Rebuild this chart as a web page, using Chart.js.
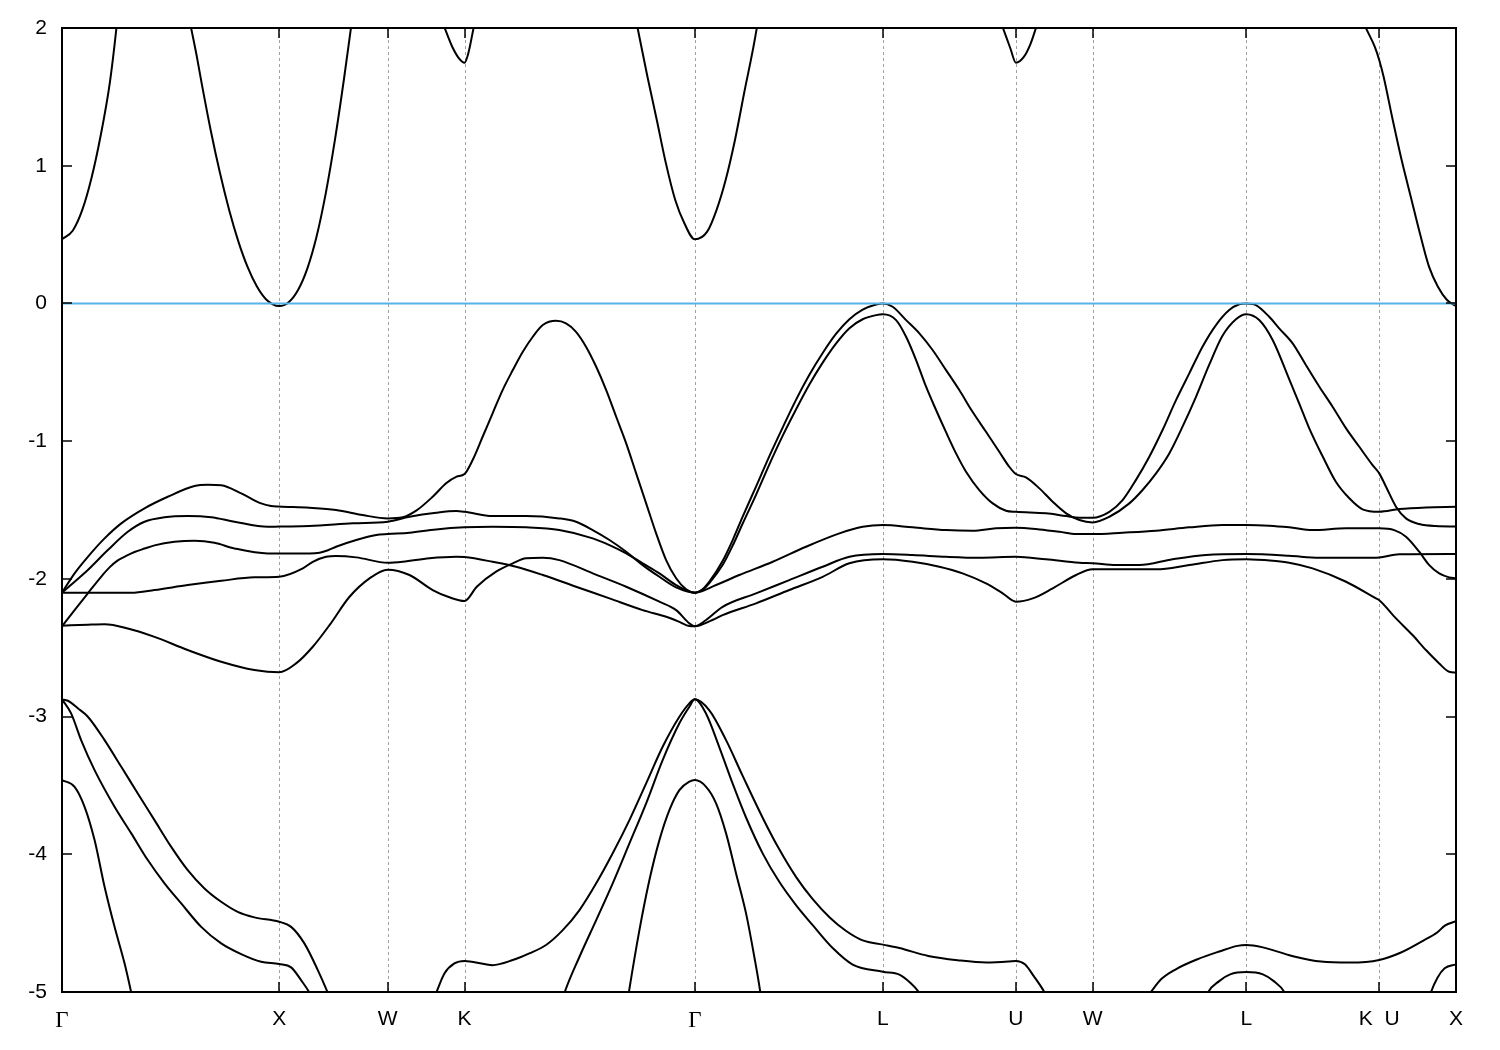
<!DOCTYPE html>
<html><head><meta charset="utf-8">
<script src="https://cdn.jsdelivr.net/npm/chart.js@4/dist/chart.umd.min.js"></script>
<style>html,body{margin:0;padding:0;background:#fff;}</style>
</head><body>
<canvas id="c" width="1500" height="1050"></canvas>
<script>
// High-symmetry points (path coordinate) and their labels
const kTicks = [0, 1.0, 1.5, 1.8536, 2.9142, 3.7802, 4.3926, 4.7462, 5.4533, 6.0657, 6.4193];
const kLabels = ['Γ', 'X', 'W', 'K', 'Γ', 'L', 'U', 'W', 'L', 'K  U', 'X'];
const yTicks = [-5, -4, -3, -2, -1, 0, 1, 2];
const fermiLevel = [[0, 0], [6.4193, 0]];

// Bands: [k, energy]; null energy = band leaves the plotted window
const conduction = [[0,0.4655],[0.050,0.53],[0.093,0.677],[0.135,0.905],[0.177,1.21],[0.220,1.60],[0.251,2.005],[0.262,2.18],
[0.42,null],
[0.575,2.16],[0.594,2.005],[0.62,1.80],[0.643,1.60],[0.685,1.256],[0.727,0.950],[0.770,0.677],[0.812,0.451],[0.855,0.263],[0.897,0.124],[0.939,0.031],[1.0,-0.019],[1.045,0.011],[1.087,0.098],[1.130,0.255],[1.172,0.484],[1.215,0.803],[1.257,1.189],[1.299,1.635],[1.331,2.005],[1.345,2.17],
[1.5,null],
[1.752,2.04],[1.761,2.005],[1.797,1.864],[1.828,1.780],[1.8536,1.748],[1.871,1.816],[1.896,2.005],[1.905,2.07],
[2.3,null],
[2.630,2.16],[2.650,2.005],[2.696,1.646],[2.739,1.332],[2.781,1.017],[2.824,0.751],[2.866,0.582],[2.9142,0.4655],[2.971,0.521],[3.014,0.678],[3.056,0.896],[3.099,1.187],[3.141,1.526],[3.200,2.005],[3.211,2.13],
[3.8,null],
[4.321,2.052],[4.332,2.005],[4.367,1.853],[4.3926,1.748],[4.430,1.792],[4.461,1.889],[4.486,2.005],[4.494,2.045],
[5.2,null],
[5.985,2.07],[6.003,2.005],[6.045,1.864],[6.0657,1.768],[6.086,1.646],[6.128,1.332],[6.169,1.041],[6.211,0.775],[6.253,0.509],[6.295,0.267],[6.336,0.121],[6.378,0.025],[6.4193,-0.019]];

const band1 = [[0,-2.10],[0.058,-1.96],[0.119,-1.84],[0.196,-1.706],[0.273,-1.597],[0.380,-1.488],[0.487,-1.404],[0.610,-1.326],[0.671,-1.317],[0.733,-1.321],[0.825,-1.379],[0.917,-1.452],[0.963,-1.471],[1.0,-1.475],
[1.139,-1.484],[1.262,-1.500],[1.385,-1.537],[1.5,-1.561],[1.569,-1.553],[1.631,-1.505],[1.707,-1.404],[1.769,-1.306],[1.815,-1.259],[1.8536,-1.239],
[1.891,-1.137],[1.937,-0.968],[1.983,-0.798],[2.029,-0.629],[2.076,-0.484],[2.122,-0.351],[2.168,-0.242],[2.214,-0.157],[2.275,-0.126],[2.321,-0.145],[2.367,-0.206],[2.413,-0.314],[2.460,-0.460],[2.506,-0.629],[2.552,-0.823],[2.598,-1.016],[2.644,-1.234],[2.690,-1.452],[2.736,-1.670],[2.782,-1.864],[2.828,-1.996],[2.874,-2.076],[2.9142,-2.10],
[2.95,-2.075],[2.981,-2.02],[3.042,-1.87],[3.088,-1.72],[3.134,-1.55],[3.196,-1.33],[3.257,-1.11],[3.319,-0.90],[3.380,-0.70],[3.441,-0.52],[3.503,-0.36],[3.565,-0.22],[3.626,-0.115],[3.687,-0.045],[3.749,-0.008],[3.7802,0.0],
[3.825,-0.024],[3.887,-0.121],[3.948,-0.217],[4.009,-0.338],[4.071,-0.484],[4.132,-0.629],[4.193,-0.787],[4.255,-0.932],[4.316,-1.077],[4.362,-1.186],[4.3926,-1.239],[4.439,-1.263],[4.501,-1.343],[4.562,-1.440],[4.624,-1.524],[4.685,-1.573],[4.7462,-1.590],
[4.823,-1.549],[4.915,-1.452],[4.976,-1.355],[5.038,-1.234],[5.099,-1.089],[5.160,-0.895],[5.222,-0.678],[5.283,-0.445],[5.344,-0.235],[5.406,-0.115],[5.4533,-0.079],
[5.513,-0.121],[5.575,-0.266],[5.651,-0.55],[5.697,-0.725],[5.743,-0.905],[5.805,-1.11],[5.866,-1.295],[5.928,-1.415],[5.989,-1.495],[6.0657,-1.513],[6.158,-1.493],[6.281,-1.481],[6.4193,-1.476]];

const band2 = [[0,-2.10],[0.058,-2.021],[0.119,-1.936],[0.211,-1.791],[0.303,-1.658],[0.380,-1.585],[0.472,-1.553],[0.579,-1.544],[0.687,-1.553],[0.794,-1.585],[0.948,-1.622],[1.0,-1.620],
[1.139,-1.617],[1.339,-1.597],[1.5,-1.585],[1.600,-1.549],[1.723,-1.520],[1.815,-1.508],[1.8536,-1.513],
[1.983,-1.544],[2.137,-1.544],[2.290,-1.561],[2.367,-1.585],[2.444,-1.646],[2.521,-1.718],[2.598,-1.803],[2.674,-1.900],[2.751,-1.985],[2.828,-2.062],[2.9142,-2.10],
[2.95,-2.078],[2.981,-2.03],[3.042,-1.90],[3.088,-1.76],[3.134,-1.60],[3.196,-1.39],[3.257,-1.17],[3.319,-0.96],[3.380,-0.77],[3.441,-0.59],[3.503,-0.43],[3.565,-0.29],[3.626,-0.18],[3.687,-0.115],[3.749,-0.085],[3.7802,-0.079],
[3.841,-0.121],[3.887,-0.242],[3.933,-0.411],[3.979,-0.605],[4.025,-0.774],[4.071,-0.935],[4.117,-1.089],[4.163,-1.222],[4.224,-1.355],[4.286,-1.452],[4.347,-1.505],[4.3926,-1.513],[4.531,-1.524],[4.624,-1.544],[4.685,-1.556],[4.7462,-1.556],
[4.823,-1.513],[4.884,-1.428],[4.945,-1.283],[5.007,-1.113],[5.068,-0.919],[5.130,-0.702],[5.191,-0.508],[5.252,-0.314],[5.314,-0.157],[5.375,-0.048],[5.421,-0.006],[5.4533,0.0],
[5.498,-0.012],[5.559,-0.097],[5.605,-0.181],[5.667,-0.290],[5.728,-0.447],[5.790,-0.605],[5.851,-0.750],[5.913,-0.907],[5.974,-1.041],[6.035,-1.174],[6.0657,-1.234],[6.097,-1.331],[6.143,-1.476],[6.189,-1.561],[6.250,-1.602],[6.327,-1.617],[6.4193,-1.62]];

const band3 = [[0,-2.10],[0.119,-2.101],[0.319,-2.101],[0.426,-2.081],[0.579,-2.045],[0.733,-2.014],[0.886,-1.989],[1.0,-1.985],
[1.109,-1.924],[1.155,-1.876],[1.216,-1.840],[1.262,-1.834],[1.355,-1.844],[1.5,-1.883],[1.569,-1.876],[1.692,-1.851],[1.815,-1.840],[1.8536,-1.842],
[1.983,-1.876],[2.091,-1.912],[2.214,-1.972],[2.367,-2.057],[2.521,-2.142],[2.674,-2.227],[2.782,-2.275],[2.843,-2.312],[2.889,-2.343],[2.9142,-2.345],
[2.966,-2.299],[3.042,-2.203],[3.196,-2.105],[3.349,-2.009],[3.503,-1.912],[3.626,-1.840],[3.7802,-1.820],
[3.917,-1.827],[4.071,-1.840],[4.224,-1.847],[4.3926,-1.840],[4.531,-1.858],[4.685,-1.883],[4.7462,-1.887],
[4.854,-1.900],[4.961,-1.900],[5.114,-1.858],[5.268,-1.827],[5.4533,-1.820],
[5.651,-1.832],[5.790,-1.847],[6.035,-1.847],[6.0657,-1.845],[6.158,-1.822],[6.4193,-1.82]];

const band4 = [[0,-2.345],[0.058,-2.227],[0.119,-2.105],[0.180,-1.985],[0.22,-1.915],[0.257,-1.866],[0.30,-1.83],[0.334,-1.805],[0.38,-1.78],[0.426,-1.757],[0.518,-1.731],[0.610,-1.723],[0.702,-1.738],[0.794,-1.779],[0.948,-1.815],[1.0,-1.815],
[1.139,-1.815],[1.186,-1.81],[1.225,-1.792],[1.262,-1.767],[1.355,-1.718],[1.447,-1.682],[1.5,-1.675],[1.600,-1.665],[1.723,-1.641],[1.8536,-1.626],
[1.983,-1.622],[2.137,-1.626],[2.290,-1.646],[2.444,-1.706],[2.521,-1.755],[2.598,-1.815],[2.674,-1.887],[2.751,-1.960],[2.828,-2.045],[2.9142,-2.10],
[3.012,-2.045],[3.119,-1.972],[3.273,-1.876],[3.426,-1.767],[3.580,-1.670],[3.687,-1.622],[3.7802,-1.609],
[3.917,-1.626],[4.071,-1.646],[4.193,-1.651],[4.301,-1.633],[4.3926,-1.629],[4.501,-1.641],[4.593,-1.658],[4.670,-1.675],[4.7462,-1.675],
[4.884,-1.665],[5.038,-1.651],[5.191,-1.626],[5.344,-1.609],[5.4533,-1.609],
[5.559,-1.614],[5.651,-1.626],[5.759,-1.646],[5.913,-1.633],[6.0657,-1.633],[6.135,-1.646],[6.189,-1.694],[6.250,-1.803],[6.296,-1.900],[6.342,-1.960],[6.388,-1.989],[6.4193,-1.996]];

const band5 = [[0,-2.34],[0.119,-2.333],[0.196,-2.330],[0.303,-2.360],[0.426,-2.421],[0.579,-2.517],[0.733,-2.602],[0.886,-2.662],[1.0,-2.679],
[1.078,-2.614],[1.155,-2.493],[1.232,-2.336],[1.324,-2.130],[1.416,-1.996],[1.5,-1.933],[1.600,-1.972],[1.707,-2.081],[1.784,-2.134],[1.8536,-2.161],
[1.910,-2.057],[1.999,-1.948],[2.076,-1.887],[2.137,-1.851],[2.214,-1.847],[2.290,-1.864],[2.444,-1.960],[2.598,-2.057],[2.751,-2.166],[2.828,-2.227],[2.889,-2.323],[2.9142,-2.345],
[2.995,-2.299],[3.042,-2.263],[3.196,-2.178],[3.349,-2.081],[3.503,-1.985],[3.626,-1.887],[3.7802,-1.858],
[3.917,-1.876],[4.040,-1.912],[4.147,-1.960],[4.255,-2.033],[4.332,-2.105],[4.3926,-2.166],[4.470,-2.142],[4.562,-2.069],[4.670,-1.972],[4.7462,-1.931],
[4.823,-1.931],[5.038,-1.931],[5.191,-1.900],[5.344,-1.864],[5.4533,-1.858],
[5.575,-1.869],[5.651,-1.883],[5.759,-1.924],[5.913,-2.021],[6.051,-2.142],[6.0657,-2.155],[6.143,-2.287],[6.219,-2.408],[6.281,-2.517],[6.342,-2.614],[6.388,-2.675],[6.4193,-2.68]];

const band6 = [[0,-2.875],[0.027,-2.885],[0.073,-2.940],[0.119,-3.001],[0.196,-3.171],[0.273,-3.365],[0.349,-3.558],[0.426,-3.752],[0.503,-3.946],[0.579,-4.115],[0.656,-4.248],[0.733,-4.345],[0.809,-4.418],[0.886,-4.458],[1.0,-4.490],[1.055,-4.527],[1.116,-4.647],[1.178,-4.841],[1.224,-5.006],[1.255,-5.13],
[1.5,null],
[1.692,-5.12],[1.723,-5.006],[1.761,-4.865],[1.807,-4.792],[1.8536,-4.774],[1.945,-4.797],[1.983,-4.805],[2.076,-4.768],[2.152,-4.720],[2.229,-4.659],[2.306,-4.551],[2.383,-4.405],[2.460,-4.211],[2.536,-3.993],[2.613,-3.752],[2.690,-3.485],[2.766,-3.219],[2.843,-3.001],[2.889,-2.904],[2.9142,-2.875],
[2.981,-2.955],[3.058,-3.171],[3.134,-3.429],[3.227,-3.736],[3.303,-3.964],[3.380,-4.164],[3.457,-4.326],[3.534,-4.457],[3.611,-4.557],[3.687,-4.625],[3.7802,-4.656],
[3.856,-4.681],[3.989,-4.738],[4.124,-4.769],[4.258,-4.786],[4.358,-4.779],[4.3926,-4.774],[4.434,-4.799],[4.475,-4.885],[4.526,-5.007],[4.551,-5.09],
[4.75,null],
[4.979,-5.07],[5.011,-5.007],[5.061,-4.908],[5.129,-4.835],[5.229,-4.762],[5.329,-4.706],[5.413,-4.665],[5.4533,-4.659],[5.530,-4.676],[5.664,-4.738],[5.798,-4.779],[5.932,-4.786],[6.0657,-4.767],[6.166,-4.713],[6.267,-4.628],[6.334,-4.566],[6.368,-4.518],[6.4193,-4.486]];

const band7 = [[0,-2.875],[0.042,-2.977],[0.088,-3.171],[0.150,-3.389],[0.242,-3.655],[0.319,-3.848],[0.395,-4.042],[0.472,-4.211],[0.549,-4.357],[0.641,-4.527],[0.733,-4.647],[0.825,-4.725],[0.917,-4.781],[1.0,-4.797],[1.055,-4.821],[1.101,-4.914],[1.140,-5.006],[1.178,-5.13],
[1.7,null],
[2.291,-5.13],[2.314,-5.006],[2.383,-4.744],[2.460,-4.478],[2.536,-4.211],[2.613,-3.921],[2.690,-3.630],[2.766,-3.316],[2.843,-3.049],[2.889,-2.929],[2.9142,-2.875],
[2.966,-2.979],[3.027,-3.223],[3.088,-3.485],[3.150,-3.733],[3.227,-3.995],[3.303,-4.200],[3.380,-4.369],[3.457,-4.515],[3.549,-4.681],[3.641,-4.801],[3.7802,-4.853],[3.856,-4.874],[3.906,-4.933],[3.948,-5.006],[3.979,-5.095],
[4.6,null],
[5.256,-5.095],[5.276,-5.006],[5.329,-4.921],[5.379,-4.872],[5.4533,-4.855],[5.530,-4.872],[5.580,-4.921],[5.631,-5.006],[5.652,-5.095],
[6.0,null],
[6.287,-5.095],[6.303,-5.006],[6.334,-4.896],[6.367,-4.828],[6.4193,-4.799]];

const band8 = [[0,-3.461],[0.058,-3.510],[0.104,-3.655],[0.150,-3.897],[0.196,-4.236],[0.242,-4.527],[0.288,-4.792],[0.319,-5.006],[0.334,-5.12],
[1.5,null],
[2.599,-5.12],[2.610,-5.006],[2.659,-4.551],[2.705,-4.187],[2.751,-3.897],[2.797,-3.679],[2.843,-3.534],[2.889,-3.473],[2.9142,-3.461],[2.966,-3.510],[3.012,-3.630],[3.058,-3.848],[3.104,-4.139],[3.150,-4.429],[3.188,-4.744],[3.216,-5.006],[3.225,-5.12]];

const bands = [conduction, band1, band2, band3, band4, band5, band6, band7, band8];

const toXY = arr => arr.map(p => ({x: p[0], y: p[1]}));

const framePlugin = {
  id: 'frame',
  beforeDatasetsDraw(chart) {
    const {ctx, chartArea: a, scales: {x}} = chart;
    ctx.save();
    ctx.strokeStyle = '#a0a0a0';
    ctx.lineWidth = 1;
    ctx.setLineDash([3, 3]);
    kTicks.forEach(v => {
      if (v > x.min + 1e-6 && v < x.max - 1e-6) {
        const px = Math.round(x.getPixelForValue(v)) + 0.5;
        ctx.beginPath(); ctx.moveTo(px, a.top); ctx.lineTo(px, a.bottom); ctx.stroke();
      }
    });
    ctx.restore();
  },
  afterDatasetsDraw(chart) {
    const {ctx, chartArea: a, scales: {x, y}} = chart;
    const tl = 10;
    ctx.save();
    ctx.strokeStyle = '#000';
    ctx.lineWidth = 1.5;
    ctx.beginPath();
    kTicks.forEach(v => {
      const px = Math.round(x.getPixelForValue(v));
      ctx.moveTo(px, a.bottom); ctx.lineTo(px, a.bottom - tl);
      ctx.moveTo(px, a.top); ctx.lineTo(px, a.top + tl);
    });
    yTicks.forEach(v => {
      const py = Math.round(y.getPixelForValue(v));
      ctx.moveTo(a.left, py); ctx.lineTo(a.left + tl, py);
      ctx.moveTo(a.right, py); ctx.lineTo(a.right - tl, py);
    });
    ctx.stroke();
    ctx.lineWidth = 2;
    ctx.strokeRect(a.left, a.top, a.right - a.left, a.bottom - a.top);
    ctx.restore();
  }
};

const datasets = [{
  data: toXY(fermiLevel), borderColor: '#56b4e9', borderWidth: 2, order: 0,
  cubicInterpolationMode: 'default', tension: 0
}].concat(bands.map(b => ({
  data: toXY(b), borderColor: '#000', borderWidth: 2, order: 1,
  cubicInterpolationMode: 'monotone', spanGaps: false
})));

new Chart(document.getElementById('c'), {
  type: 'line',
  data: {datasets},
  options: {
    responsive: false,
    animation: false,
    devicePixelRatio: 1,
    layout: {padding: {top: 28, right: 44, left: 0, bottom: 0}},
    plugins: {legend: {display: false}, tooltip: {enabled: false}},
    elements: {point: {radius: 0}},
    datasets: {line: {clip: 0}},
    scales: {
      x: {
        type: 'linear', min: 0, max: 6.4193,
        afterBuildTicks: s => { s.ticks = kTicks.map(v => ({value: v})); },
        afterFit: s => { s.height = 58; },
        grid: {display: false, drawTicks: false},
        border: {display: false},
        ticks: {
          autoSkip: false, maxRotation: 0, minRotation: 0, padding: 15, color: '#000',
          font: c => (kLabels[c.index] === 'Γ') ? {family: 'Liberation Serif', size: 23} : {family: 'Liberation Sans', size: 21},
          callback: (v, i) => kLabels[i]
        }
      },
      y: {
        min: -5, max: 2,
        afterBuildTicks: s => { s.ticks = yTicks.map(v => ({value: v})); },
        afterFit: s => { s.width = 62; },
        grid: {display: false, drawTicks: false},
        border: {display: false},
        ticks: {padding: 15, color: '#000', font: {family: 'Liberation Sans', size: 21}, callback: v => String(v)}
      }
    }
  },
  plugins: [framePlugin]
});
</script>
</body></html>
